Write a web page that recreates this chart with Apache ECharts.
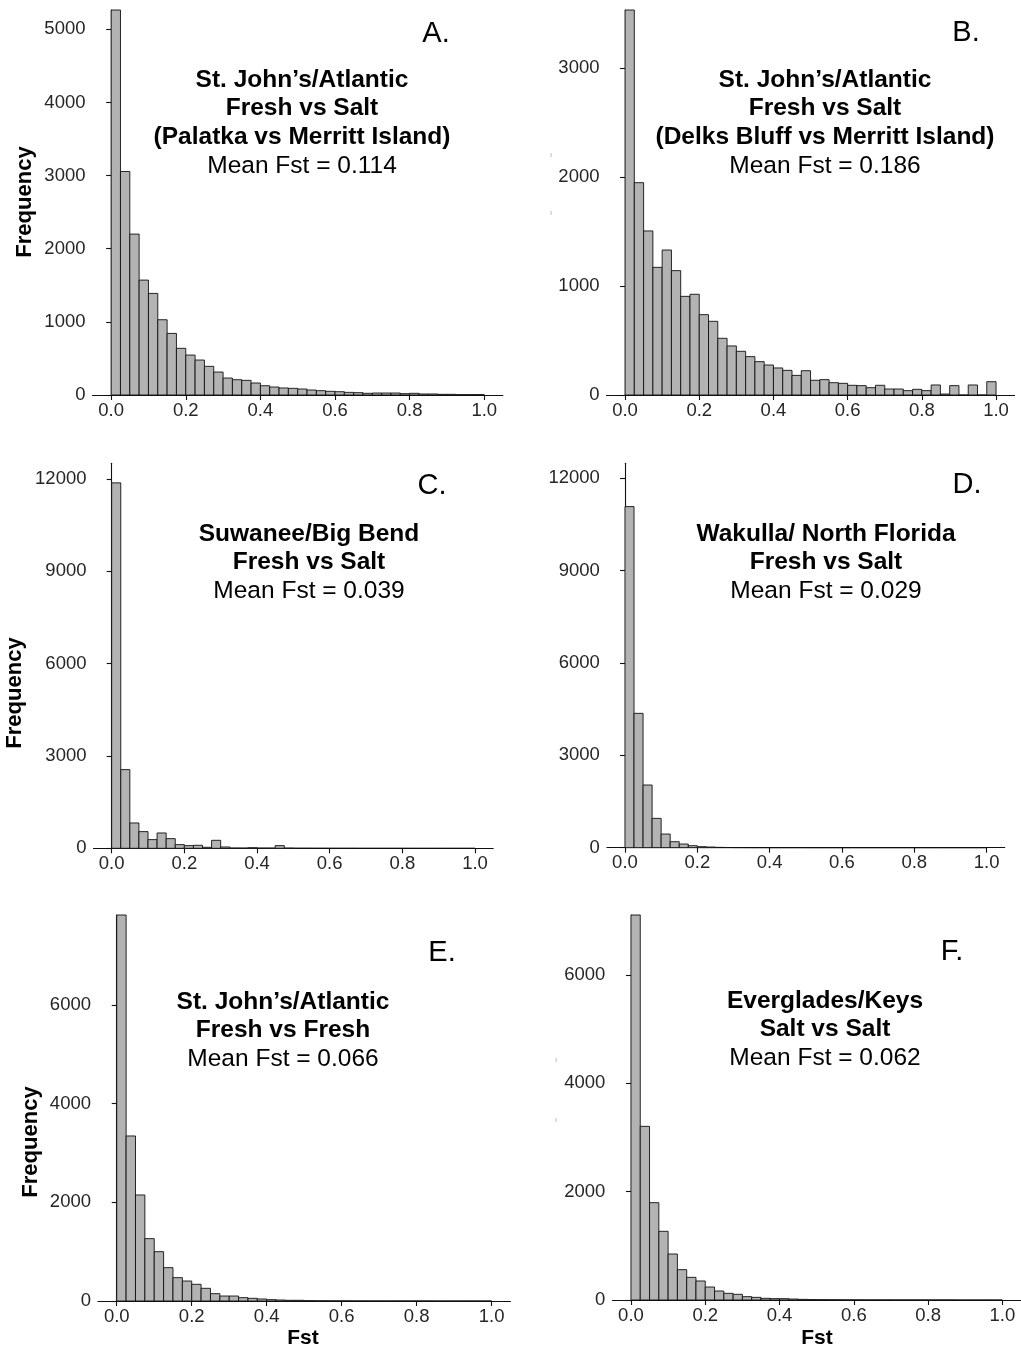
<!DOCTYPE html>
<html>
<head>
<meta charset="utf-8">
<script src="https://cdn.jsdelivr.net/npm/echarts@6/dist/echarts.min.js"></script>
<style>
  html, body { margin: 0; padding: 0; background: #ffffff; }
  #chart { width: 1021px; height: 1351px; }
</style>
</head>
<body>
<div id="chart"></div>
<script>
// Fst histograms: 40 bins of width 0.025 spanning 0..1
const BIN_WIDTH = 0.025;
const fstTicks = [0, 0.2, 0.4, 0.6, 0.8, 1.0];

// Bin counts (first bin of A, B, E, F runs past the top of the panel)
const countsA = [5800, 3056, 2200, 1571, 1389, 1029, 842, 638, 546, 478,
                 392, 314, 232, 209, 200, 164, 127, 109, 96, 91,
                 82, 68, 59, 50, 45, 36, 32, 23, 27, 27,
                 27, 18, 23, 14, 14, 9, 9, 5, 5, 5];
const countsB = [3800, 1948, 1505, 1171, 1330, 1141, 905, 924, 737, 676,
                 520, 450, 401, 352, 306, 275, 248, 226, 180, 223,
                 135, 141, 113, 107, 89, 86, 67, 89, 55, 55,
                 40, 52, 40, 92, 9, 86, 0, 92, 0, 122];
const countsC = [11874, 2557, 823, 542, 282, 498, 314, 119, 87, 98,
                 33, 260, 43, 11, 10, 20, 10, 10, 87, 10,
                 5, 4, 3, 3, 2, 2, 2, 1, 1, 1,
                 1, 1, 1, 0, 0, 0, 0, 0, 0, 0];
const countsD = [11083, 4366, 2037, 953, 444, 195, 119, 65, 33, 22,
                 11, 6, 4, 3, 2, 2, 1, 1, 1, 1,
                 0, 0, 0, 0, 0, 0, 0, 0, 0, 0,
                 0, 0, 0, 0, 0, 0, 0, 0, 0, 0];
const countsE = [8500, 3345, 2149, 1264, 1000, 676, 473, 405, 338, 257,
                 149, 101, 101, 68, 54, 41, 27, 20, 14, 14,
                 7, 5, 4, 3, 3, 2, 2, 1, 1, 1,
                 1, 1, 1, 1, 0, 0, 0, 0, 0, 0];
const countsF = [7600, 3206, 1797, 1268, 849, 560, 418, 351, 240, 166,
                 123, 105, 62, 49, 31, 25, 25, 18, 12, 8,
                 6, 5, 4, 3, 3, 2, 2, 2, 1, 1,
                 1, 1, 1, 1, 1, 0, 0, 0, 0, 0];

// Frequency tick values per panel
const yTicksA = [0, 1000, 2000, 3000, 4000, 5000];
const yTicksB = [0, 1000, 2000, 3000];
const yTicksC = [0, 3000, 6000, 9000, 12000];
const yTicksD = [0, 3000, 6000, 9000, 12000];
const yTicksE = [0, 2000, 4000, 6000];
const yTicksF = [0, 2000, 4000, 6000];

// Panel headings
const textA = ["St. John\u2019s/Atlantic", "Fresh vs Salt", "(Palatka vs Merritt Island)", "Mean Fst = 0.114"];
const textB = ["St. John\u2019s/Atlantic", "Fresh vs Salt", "(Delks Bluff vs Merritt Island)", "Mean Fst = 0.186"];
const textC = ["Suwanee/Big Bend", "Fresh vs Salt", "Mean Fst = 0.039"];
const textD = ["Wakulla/ North Florida", "Fresh vs Salt", "Mean Fst = 0.029"];
const textE = ["St. John\u2019s/Atlantic", "Fresh vs Fresh", "Mean Fst = 0.066"];
const textF = ["Everglades/Keys", "Salt vs Salt", "Mean Fst = 0.062"];

const FONT = '"Liberation Sans", Arial, Helvetica, sans-serif';

const panels = [
  { letter: 'A.', counts: countsA, yTicks: yTicksA, yMax: 5264, lines: textA,
    grid: { left: 92.5, top: 10, width: 410.4, height: 385 },
    letterPos: [436, 34], textX: 302, textY: 80, yName: [25, 202], xName: null },
  { letter: 'B.', counts: countsB, yTicks: yTicksB, yMax: 3532, lines: textB,
    grid: { left: 606.5, top: 10, width: 408.1, height: 385 },
    letterPos: [966, 33], textX: 825, textY: 80, yName: null, xName: null },
  { letter: 'C.', counts: countsC, yTicks: yTicksC, yMax: 12510, lines: textC,
    grid: { left: 93.5, top: 463.3, width: 399.7, height: 385 },
    letterPos: [432, 486], textX: 309, textY: 534, yName: [15, 693], xName: null },
  { letter: 'D.', counts: countsD, yTicks: yTicksD, yMax: 12490, lines: textD,
    grid: { left: 606.9, top: 463.3, width: 397.8, height: 384.4 },
    letterPos: [967, 485], textX: 826, textY: 534, yName: null, xName: null },
  { letter: 'E.', counts: countsE, yTicks: yTicksE, yMax: 7824, lines: textE,
    grid: { left: 98, top: 915, width: 412.4, height: 386 },
    letterPos: [442, 953], textX: 283, textY: 1002, yName: [31, 1142], xName: [303, 1338] },
  { letter: 'F.', counts: countsF, yTicks: yTicksF, yMax: 7108, lines: textF,
    grid: { left: 612.4, top: 915, width: 409.6, height: 385 },
    letterPos: [952, 952], textX: 825, textY: 1001, yName: null, xName: [817, 1338] }
];

function renderBin(params, api) {
  const start = api.value(0);
  const end = api.value(1);
  const n = api.value(2);
  const p0 = api.coord([start, n]);
  const p1 = api.coord([end, 0]);
  const cs = params.coordSys;
  const top = Math.max(p0[1], cs.y);
  return {
    type: 'rect',
    shape: { x: p0[0], y: top, width: p1[0] - p0[0], height: p1[1] - top },
    style: { fill: '#b3b3b3', stroke: '#111111', lineWidth: 0.9 }
  };
}

const grids = [], xAxes = [], yAxes = [], series = [], graphics = [];
const LINE_STEP = 28.7;
const TICK_FONT = 18.5;

panels.forEach((p, k) => {
  grids.push(Object.assign({ containLabel: false }, p.grid));
  xAxes.push({
    type: 'value', gridIndex: k, min: -0.05, max: 1.05,
    splitLine: { show: false },
    axisLine: { show: true, onZero: false, lineStyle: { color: '#111', width: 1.1 } },
    axisTick: { show: true, customValues: fstTicks, length: 5, lineStyle: { color: '#111', width: 1.1 } },
    axisLabel: { customValues: fstTicks, formatter: v => v.toFixed(1), fontFamily: FONT,
                 fontSize: TICK_FONT, color: '#262626', margin: 6 }
  });
  yAxes.push({
    type: 'value', gridIndex: k, min: 0, max: p.yMax,
    splitLine: { show: false },
    axisLine: { show: true, lineStyle: { color: '#111', width: 1.1 } },
    axisTick: { show: true, customValues: p.yTicks, length: 5, lineStyle: { color: '#111', width: 1.1 } },
    axisLabel: { customValues: p.yTicks, formatter: v => String(Math.round(v)), fontFamily: FONT,
                 fontSize: TICK_FONT, color: '#262626', margin: 7 }
  });
  series.push({
    type: 'custom', xAxisIndex: k, yAxisIndex: k,
    renderItem: renderBin,
    encode: { x: [0, 1], y: 2 },
    data: p.counts.map((n, i) => [i * BIN_WIDTH, (i + 1) * BIN_WIDTH, n]),
    clip: false, silent: true, animation: false
  });

  graphics.push({
    type: 'text', x: p.letterPos[0], y: p.letterPos[1],
    style: { text: p.letter, fontFamily: FONT, fontSize: 29, fill: '#000', align: 'center', verticalAlign: 'middle' }
  });
  p.lines.forEach((line, j) => {
    const isMean = j === p.lines.length - 1;
    graphics.push({
      type: 'text', x: p.textX, y: p.textY + j * LINE_STEP,
      style: { text: line, fontFamily: FONT, fontSize: 24.5, fontWeight: isMean ? 'normal' : 'bold',
               fill: '#000', align: 'center', verticalAlign: 'middle' }
    });
  });
  if (p.yName) {
    graphics.push({
      type: 'text', x: p.yName[0], y: p.yName[1], rotation: Math.PI / 2,
      style: { text: 'Frequency', fontFamily: FONT, fontSize: 22, fontWeight: 'bold', fill: '#000',
               align: 'center', verticalAlign: 'middle' }
    });
  }
  if (p.xName) {
    graphics.push({
      type: 'text', x: p.xName[0], y: p.xName[1],
      style: { text: 'Fst', fontFamily: FONT, fontSize: 21, fontWeight: 'bold', fill: '#000',
               align: 'center', verticalAlign: 'middle' }
    });
  }
});

// faint specks left of panels B and F
[[550.5, 153], [550.5, 211], [555.5, 1058], [555.5, 1118]].forEach(([x, y]) => {
  graphics.push({ type: 'rect', shape: { x: x, y: y, width: 1.2, height: 4 }, style: { fill: '#c8c8c8' } });
});

const chart = echarts.init(document.getElementById('chart'), null, { renderer: 'canvas' });
chart.setOption({
  animation: false,
  backgroundColor: '#ffffff',
  grid: grids,
  xAxis: xAxes,
  yAxis: yAxes,
  series: series,
  graphic: graphics
});
</script>
</body>
</html>
